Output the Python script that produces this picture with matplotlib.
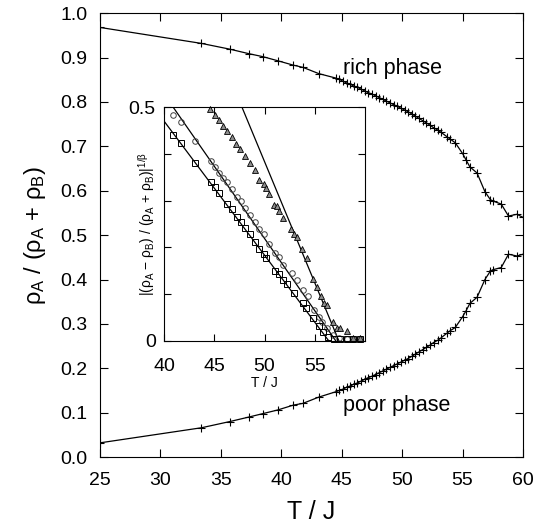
import matplotlib
matplotlib.use("Agg")
import matplotlib.pyplot as plt

plt.rcParams["font.family"] = ["Liberation Sans", "DejaVu Sans"]
plt.rcParams["mathtext.fontset"] = "custom"
plt.rcParams["mathtext.rm"] = "Liberation Sans"
plt.rcParams["mathtext.it"] = "Liberation Sans"

# main plot: concentration of A in the two coexisting phases
T_main = [25.0, 33.4, 35.75, 37.3, 38.5, 39.7, 41.0, 41.8, 43.1,
          44.5, 44.8, 45.1, 45.4, 45.7, 46.0, 46.3, 46.6, 46.9, 47.2, 47.5, 47.8,
          48.1, 48.4, 48.7, 49.0, 49.3, 49.6, 49.9, 50.2, 50.5, 50.8, 51.1, 51.4,
          51.7, 52.0, 52.3, 52.6, 53.0, 53.2, 53.7, 54.0, 54.4, 55.0, 55.3, 55.6,
          56.2, 56.85, 57.3, 57.5, 58.2, 58.8, 59.5, 60.0]
rich = [0.968, 0.932, 0.919, 0.909, 0.902, 0.893, 0.883, 0.878, 0.864,
        0.854, 0.851, 0.847, 0.843, 0.840, 0.836, 0.833, 0.829, 0.825, 0.821, 0.818, 0.814,
        0.810, 0.806, 0.802, 0.798, 0.794, 0.790, 0.786, 0.782, 0.778, 0.773, 0.768, 0.763,
        0.758, 0.753, 0.748, 0.742, 0.736, 0.732, 0.722, 0.716, 0.708, 0.684, 0.669, 0.654,
        0.640, 0.598, 0.580, 0.577, 0.570, 0.543, 0.547, 0.540]
poor = [0.032, 0.066, 0.080, 0.090, 0.098, 0.106, 0.117, 0.121, 0.135,
        0.147, 0.150, 0.153, 0.157, 0.160, 0.164, 0.167, 0.171, 0.175, 0.179, 0.182, 0.186,
        0.190, 0.194, 0.198, 0.202, 0.206, 0.210, 0.214, 0.218, 0.222, 0.227, 0.232, 0.237,
        0.242, 0.247, 0.252, 0.258, 0.264, 0.268, 0.279, 0.285, 0.292, 0.316, 0.330, 0.346,
        0.360, 0.400, 0.419, 0.422, 0.427, 0.457, 0.453, 0.457]

# inset: order parameter to the power 1/beta
tri_T = [44.58, 45.07, 45.47, 45.84, 46.3, 46.73, 47.16, 47.56, 48.06, 48.56,
         49.05, 49.5, 49.9, 50.15, 50.48, 50.95, 51.2, 51.47, 51.87, 52.6,
         52.94, 53.2, 53.76, 54.2, 54.86, 55.19, 55.59, 55.95, 56.19, 56.79,
         57.18, 57.5, 58.2, 58.84, 59.5]
tri_y = [0.495, 0.484, 0.472, 0.460, 0.449, 0.435, 0.420, 0.410, 0.395, 0.381,
         0.365, 0.345, 0.335, 0.326, 0.314, 0.291, 0.288, 0.278, 0.262, 0.239,
         0.229, 0.223, 0.196, 0.177, 0.132, 0.116, 0.096, 0.082, 0.077, 0.041,
         0.027, 0.027, 0.022, 0.006, 0.006]
circ_T = [40.93, 41.66, 43.08, 44.64, 45.07, 45.5, 45.9, 46.3, 46.73, 47.23,
          47.63, 48.06, 48.56, 49.05, 49.5, 49.95, 50.48, 51.04, 51.47, 51.8,
          52.7, 53.2, 53.86, 54.36, 54.93, 55.45, 55.69, 56.19, 56.8, 57.4,
          58.2, 58.84, 59.5]
circ_y = [0.484, 0.469, 0.427, 0.385, 0.371, 0.360, 0.349, 0.339, 0.324, 0.308,
          0.300, 0.284, 0.269, 0.255, 0.239, 0.229, 0.207, 0.187, 0.179, 0.162,
          0.145, 0.130, 0.109, 0.096, 0.066, 0.052, 0.041, 0.027, 0.012, 0.006,
          0.005, 0.005, 0.005]
sq_T = [40.93, 41.66, 43.08, 44.64, 45.07, 45.5, 46.3, 46.73, 47.23, 47.63,
        48.06, 48.56, 49.05, 49.5, 49.95, 50.15, 51.04, 51.47, 51.8, 52.2,
        52.94, 53.8, 54.13, 54.86, 55.45, 55.85, 56.35, 56.9, 57.5, 58.2,
        58.84, 59.5]
sq_y = [0.440, 0.424, 0.381, 0.340, 0.330, 0.317, 0.293, 0.281, 0.264, 0.255,
        0.241, 0.229, 0.212, 0.196, 0.186, 0.177, 0.150, 0.143, 0.130, 0.122,
        0.102, 0.082, 0.070, 0.049, 0.032, 0.020, 0.009, 0.005, 0.004, 0.004,
        0.004, 0.004]
# straight-line fits (end points)
fit_T = [[47.75, 57.4], [40.9, 57.1], [40.0, 56.4]]
fit_y = [[0.5, 0.0], [0.5, 0.0], [0.47, 0.0]]

fig = plt.figure(figsize=(5.4, 5.29), dpi=100)
ax = fig.add_axes([0.185, 0.136, 0.7835, 0.839])

for vals in (rich, poor):
    ax.plot(T_main, vals, color="black", lw=0.9, marker="+", ms=6, mew=0.8)

ax.set_xlim(25, 60)
ax.set_ylim(0, 1)
ax.set_xticks(range(25, 61, 5))
ax.set_yticks([i / 10 for i in range(11)])
ax.set_yticklabels([f"{i / 10:.1f}" for i in range(11)])
ax.tick_params(direction="in", top=True, right=True, length=6, labelsize=14, pad=9)
ax.tick_params(axis="x", pad=11)
ax.set_xlabel("T / J", fontsize=18, labelpad=8)
ax.set_ylabel(r"ρ$_\mathrm{A}$ / (ρ$_\mathrm{A}$ + ρ$_\mathrm{B}$)", fontsize=17, labelpad=9)
ax.text(45.1, 0.876, "rich phase", fontsize=15.5, va="center")
ax.text(45.1, 0.117, "poor phase", fontsize=15.5, va="center")

ins = fig.add_axes([0.3037, 0.3554, 0.3723, 0.4423])
for ft, fy in zip(fit_T, fit_y):
    ins.plot(ft, fy, color="black", lw=0.9)
ins.plot(tri_T, tri_y, ls="none", marker="^", ms=4.5, mfc="0.55", mec="black", mew=0.6, clip_on=False)
ins.plot(circ_T, circ_y, ls="none", marker="o", ms=4, mfc="none", mec="0.25", mew=0.7, clip_on=False)
ins.plot(sq_T, sq_y, ls="none", marker="s", ms=4, mfc="none", mec="black", mew=0.7, clip_on=False)
ins.set_xlim(40, 60)
ins.set_ylim(0, 0.5)
ins.set_xticks([40, 45, 50, 55])
ins.set_yticks([0, 0.1, 0.2, 0.3, 0.4, 0.5])
ins.set_yticklabels(["0", "", "", "", "", "0.5"])
ins.tick_params(direction="in", top=True, right=True, length=5, labelsize=14, pad=6)
ins.tick_params(axis="x", pad=12)
ins.set_xlabel("T / J", fontsize=10, labelpad=1)
ins.text(-0.085, 0.5,
         r"|(ρ$_\mathrm{A}$ − ρ$_\mathrm{B}$) / (ρ$_\mathrm{A}$ + ρ$_\mathrm{B}$)|$^{1/\beta}$",
         transform=ins.transAxes, rotation=90, ha="center", va="center", fontsize=10)

fig.savefig("out.png", dpi=100)
